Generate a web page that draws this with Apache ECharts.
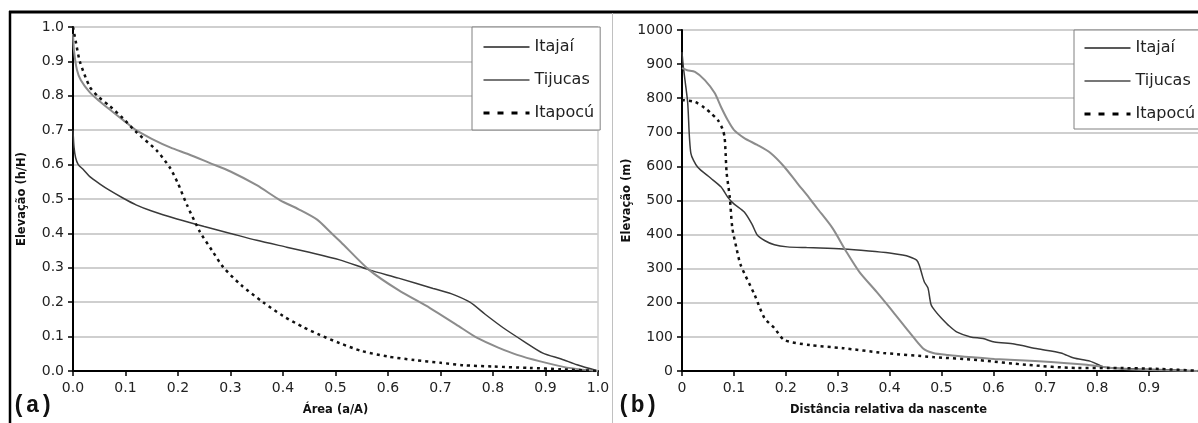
<!DOCTYPE html>
<html>
<head>
<meta charset="utf-8">
<script src="https://cdn.jsdelivr.net/npm/echarts@6/dist/echarts.min.js"></script>
<style>
html,body{margin:0;padding:0;background:#fff;}
#c{width:1198px;height:423px;}
</style>
</head>
<body>
<div id="c"></div>
<script>
// Panel (a): hypsometric curves
const seriesNames = ['Itajaí', 'Tijucas', 'Itapocú'];
const leftYTicks = ['0.0','0.1','0.2','0.3','0.4','0.5','0.6','0.7','0.8','0.9','1.0'];

const itajaiArea = [0, 0.002, 0.005, 0.01, 0.02, 0.032, 0.05, 0.07, 0.095, 0.12, 0.15, 0.198, 0.25, 0.3, 0.35, 0.407, 0.45, 0.508, 0.564, 0.62, 0.686, 0.72, 0.756, 0.785, 0.82, 0.86, 0.895, 0.93, 0.96, 1.0];
const itajaiH    = [0.70, 0.65, 0.62, 0.60, 0.585, 0.565, 0.545, 0.525, 0.503, 0.483, 0.465, 0.442, 0.42, 0.40, 0.38, 0.36, 0.345, 0.323, 0.294, 0.27, 0.24, 0.225, 0.20, 0.165, 0.125, 0.085, 0.052, 0.035, 0.018, 0.0];

const tijucasArea = [0, 0.002, 0.0076, 0.015, 0.032, 0.05, 0.07, 0.095, 0.12, 0.15, 0.185, 0.22, 0.26, 0.3, 0.35, 0.394, 0.43, 0.465, 0.49, 0.51, 0.564, 0.62, 0.68, 0.73, 0.77, 0.81, 0.846, 0.89, 0.934, 0.97, 1.0];
const tijucasH    = [0.98, 0.93, 0.875, 0.845, 0.81, 0.785, 0.76, 0.73, 0.70, 0.675, 0.65, 0.63, 0.605, 0.58, 0.54, 0.497, 0.47, 0.44, 0.404, 0.375, 0.294, 0.235, 0.183, 0.135, 0.096, 0.068, 0.047, 0.028, 0.012, 0.004, 0.0];

const itapocuArea = [0, 0.005, 0.013, 0.032, 0.05, 0.07, 0.095, 0.12, 0.16, 0.185, 0.2, 0.217, 0.242, 0.265, 0.286, 0.32, 0.362, 0.4, 0.438, 0.47, 0.508, 0.55, 0.6, 0.65, 0.7, 0.743, 0.8, 0.87, 0.93, 1.0];
const itapocuH    = [1.0, 0.96, 0.90, 0.826, 0.795, 0.77, 0.735, 0.695, 0.64, 0.59, 0.545, 0.483, 0.404, 0.35, 0.302, 0.25, 0.2, 0.16, 0.128, 0.105, 0.081, 0.058, 0.042, 0.032, 0.024, 0.017, 0.013, 0.009, 0.005, 0.0];

// Panel (b): longitudinal profiles
const itajaiDist = [0, 0.002, 0.006, 0.011, 0.017, 0.03, 0.055, 0.075, 0.088, 0.1, 0.12, 0.135, 0.145, 0.16, 0.178, 0.203, 0.24, 0.266, 0.31, 0.36, 0.40, 0.425, 0.438, 0.452, 0.457, 0.462, 0.467, 0.474, 0.48, 0.49, 0.5, 0.515, 0.53, 0.556, 0.58, 0.602, 0.64, 0.685, 0.73, 0.755, 0.786, 0.812, 0.83, 0.88, 0.95, 1.0];
const itajaiElev = [935, 900, 850, 786, 639, 598, 566, 540, 510, 490, 466, 430, 399, 382, 370, 364, 362, 361, 358, 352, 346, 340, 335, 325, 311, 285, 261, 243, 194, 172, 155, 132, 114, 100, 95, 85, 79, 65, 53, 38, 29, 12, 9, 6, 3, 0];

const tijucasDist = [0, 0.01, 0.025, 0.044, 0.063, 0.075, 0.088, 0.1, 0.12, 0.145, 0.17, 0.197, 0.222, 0.245, 0.26, 0.29, 0.317, 0.342, 0.375, 0.407, 0.438, 0.464, 0.484, 0.512, 0.56, 0.602, 0.68, 0.742, 0.78, 0.812, 0.85, 0.9, 1.0];
const tijucasElev = [888, 882, 877, 853, 815, 775, 736, 707, 683, 663, 640, 599, 551, 508, 478, 419, 349, 290, 232, 173, 114, 67, 53, 47, 40, 35, 29, 23, 18, 12, 6, 3, 0];

const itapocuDist = [0, 0.025, 0.044, 0.055, 0.069, 0.078, 0.082, 0.084, 0.086, 0.092, 0.097, 0.105, 0.113, 0.14, 0.159, 0.178, 0.197, 0.247, 0.31, 0.388, 0.484, 0.57, 0.665, 0.76, 0.824, 0.92, 1.0];
const itapocuElev = [795, 789, 771, 757, 736, 710, 686, 639, 581, 510, 419, 360, 311, 223, 155, 126, 91, 76, 67, 53, 41, 32, 18, 9, 9, 6, 0];

function zip(xs, ys){ return xs.map((x,i)=>[x, ys[i]]); }

const FONT = 'DejaVu Sans';
const axisLine = {show:true, lineStyle:{color:'#000', width:2}};
const axisTick = {show:true, inside:false, length:5, lineStyle:{color:'#000', width:1.5}};
const labelStyle = {color:'#222', fontFamily:FONT, fontSize:14};
const nameStyle = {color:'#111', fontFamily:FONT, fontSize:11.5, fontWeight:'bold'};
const splitLine = {show:true, lineStyle:{color:'#cfcfcf', width:2}};

const styles = {
  'Itajaí': {color:'#3a3a3a', width:1.5, type:'solid'},
  'Tijucas': {color:'#8c8c8c', width:2, type:'solid'},
  'Itapocú': {color:'#111', width:2.5, type:[3,4]}
};

function mk(name, data, xi){
  const s = styles[name];
  return {
    name: name, type:'line', xAxisIndex:xi, yAxisIndex:xi,
    data: data, symbol:'none', smooth:0.25, silent:true,
    lineStyle:{color:s.color, width:s.width, type:s.type},
    itemStyle:{color:s.color},
    z: name==='Itapocú'?3:2
  };
}

const hiddenSym = {color:'transparent', borderWidth:0, opacity:0};
const legendCommon = {
  orient:'vertical', itemWidth:46, itemHeight:14, itemGap:15,
  backgroundColor:'#fff', borderColor:'#808080', borderWidth:1,
  textStyle:{fontFamily:FONT, fontSize:16, color:'#222', lineHeight:18},
  selectedMode:false,
  itemStyle:hiddenSym,
  data:[
    {name:'Itajaí', itemStyle:hiddenSym, lineStyle:{color:'#222', width:1.5, type:'solid'}},
    {name:'Tijucas', itemStyle:hiddenSym, lineStyle:{color:'#777', width:2, type:'solid'}},
    {name:'Itapocú', itemStyle:hiddenSym, lineStyle:{color:'#000', width:3, type:[6,8]}}
  ]
};

const chart = echarts.init(document.getElementById('c'), null, {renderer:'canvas'});
chart.setOption({
  animation:false,
  backgroundColor:'#fff',
  grid:[
    {left:73, top:27, right:600, bottom:52, show:true, borderColor:'#b5b5b5', borderWidth:1, backgroundColor:'transparent', outerBoundsMode:'none', containLabel:false},
    {left:682, top:30, right:-3, bottom:52, show:false, outerBoundsMode:'none', containLabel:false}
  ],
  xAxis:[
    {type:'value', gridIndex:0, min:0, max:1, interval:0.1,
     name:'Área (a/A)', nameLocation:'middle', nameGap:33, nameTextStyle:nameStyle,
     axisLine:axisLine, axisTick:axisTick, splitLine:{show:false},
     axisLabel:Object.assign({margin:10, formatter:v=>v.toFixed(1)}, labelStyle)},
    {type:'value', gridIndex:1, min:0, max:1, interval:0.1,
     name:'Distância relativa da nascente', nameLocation:'middle', nameGap:33,
     nameTextStyle:Object.assign({padding:[0,106,0,0]}, nameStyle),
     axisLine:axisLine, axisTick:axisTick, splitLine:{show:false},
     axisLabel:Object.assign({margin:10}, labelStyle)}
  ],
  yAxis:[
    {type:'value', gridIndex:0, min:0, max:1, interval:0.1,
     name:'Elevação (h/H)', nameLocation:'middle', nameGap:45, nameTextStyle:nameStyle,
     axisLine:axisLine, axisTick:axisTick, splitLine:splitLine,
     axisLabel:Object.assign({margin:9, formatter:v=>leftYTicks[Math.round(v*10)]}, labelStyle)},
    {type:'value', gridIndex:1, min:0, max:1000, interval:100,
     name:'Elevação (m)', nameLocation:'middle', nameGap:44, nameTextStyle:nameStyle,
     axisLine:axisLine, axisTick:axisTick, splitLine:splitLine,
     axisLabel:Object.assign({margin:9, formatter:v=>String(v)}, labelStyle)}
  ],
  legend:[
    Object.assign({left:472, top:27, padding:[11,6,8,10]}, legendCommon),
    Object.assign({left:1074, top:30, padding:[9,10,6,9]}, legendCommon)
  ],
  series:[
    mk('Itajaí', zip(itajaiArea, itajaiH), 0),
    mk('Tijucas', zip(tijucasArea, tijucasH), 0),
    mk('Itapocú', zip(itapocuArea, itapocuH), 0),
    mk('Itajaí', zip(itajaiDist, itajaiElev), 1),
    mk('Tijucas', zip(tijucasDist, tijucasElev), 1),
    mk('Itapocú', zip(itapocuDist, itapocuElev), 1)
  ],
  graphic:[
    {type:'line', shape:{x1:9, y1:12, x2:1198, y2:12}, style:{stroke:'#000', lineWidth:3}, z:100},
    {type:'line', shape:{x1:10, y1:11, x2:10, y2:423}, style:{stroke:'#000', lineWidth:2.5}, z:100},
    {type:'line', shape:{x1:612.5, y1:13, x2:612.5, y2:423}, style:{stroke:'#c0c0c0', lineWidth:1}, z:100},
    {type:'text', left:12, top:395, style:{text:'(a)', font:'bold 23px "Liberation Mono", "DejaVu Sans Mono", monospace', fill:'#111'}, z:100},
    {type:'text', left:617, top:395, style:{text:'(b)', font:'bold 23px "Liberation Mono", "DejaVu Sans Mono", monospace', fill:'#111'}, z:100}
  ]
});
</script>
</body>
</html>
